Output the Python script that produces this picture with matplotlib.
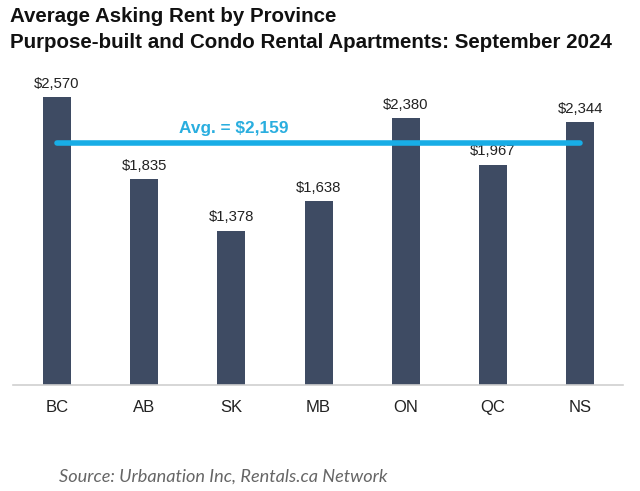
import numpy as np
import matplotlib.pyplot as plt

plt.rcParams['font.family'] = ['Liberation Sans', 'DejaVu Sans']

provinces = ["BC", "AB", "SK", "MB", "ON", "QC", "NS"]
rents = [2570, 1835, 1378, 1638, 2380, 1967, 2344]
avg_rent = 2159

fig = plt.figure(figsize=(6.4, 4.91), dpi=100)
# baseline at y~385 px, axis spans x 13..623 px
ax = fig.add_axes([0.0203, 0.216, 0.953, 0.639])

x = np.arange(len(provinces))
ax.bar(x, rents, width=0.32, color="#3e4b63", zorder=2)
for xi, v in zip(x, rents):
    ax.text(xi, v + 55, f"${v:,}", ha="center", va="bottom", fontsize=10.7, color="#222222")

ax.plot([x[0], x[-1]], [avg_rent, avg_rent], color="#18ade6", lw=4,
        solid_capstyle="round", zorder=3)
ax.text(2.03, avg_rent + 60, f"Avg. = ${avg_rent:,}", ha="center", va="bottom",
        fontsize=12.4, fontweight="bold", color="#2aaedf")

ax.set_xlim(-0.505, 6.49)
ax.set_ylim(0, 2800)
ax.set_yticks([])
ax.set_xticks(x)
ax.set_xticklabels(provinces, fontsize=12, color="#222222")
ax.tick_params(axis="x", length=0, pad=11)
for s in ["top", "right", "left"]:
    ax.spines[s].set_visible(False)
ax.spines["bottom"].set_color("#d0d0d0")
ax.spines["bottom"].set_linewidth(1.2)

fig.text(0.016, 0.985, "Average Asking Rent by Province", fontsize=14.8,
         fontweight="bold", va="top", color="#111111")
fig.text(0.016, 0.932, "Purpose-built and Condo Rental Apartments: September 2024",
         fontsize=14.8, fontweight="bold", va="top", color="#111111")
fig.text(0.092, 0.014, "Source: Urbanation Inc, Rentals.ca Network", fontsize=13.1,
         style="italic", color="#666666", va="bottom", family=["Lato", "DejaVu Sans"])

fig.savefig("out.png", dpi=100)
